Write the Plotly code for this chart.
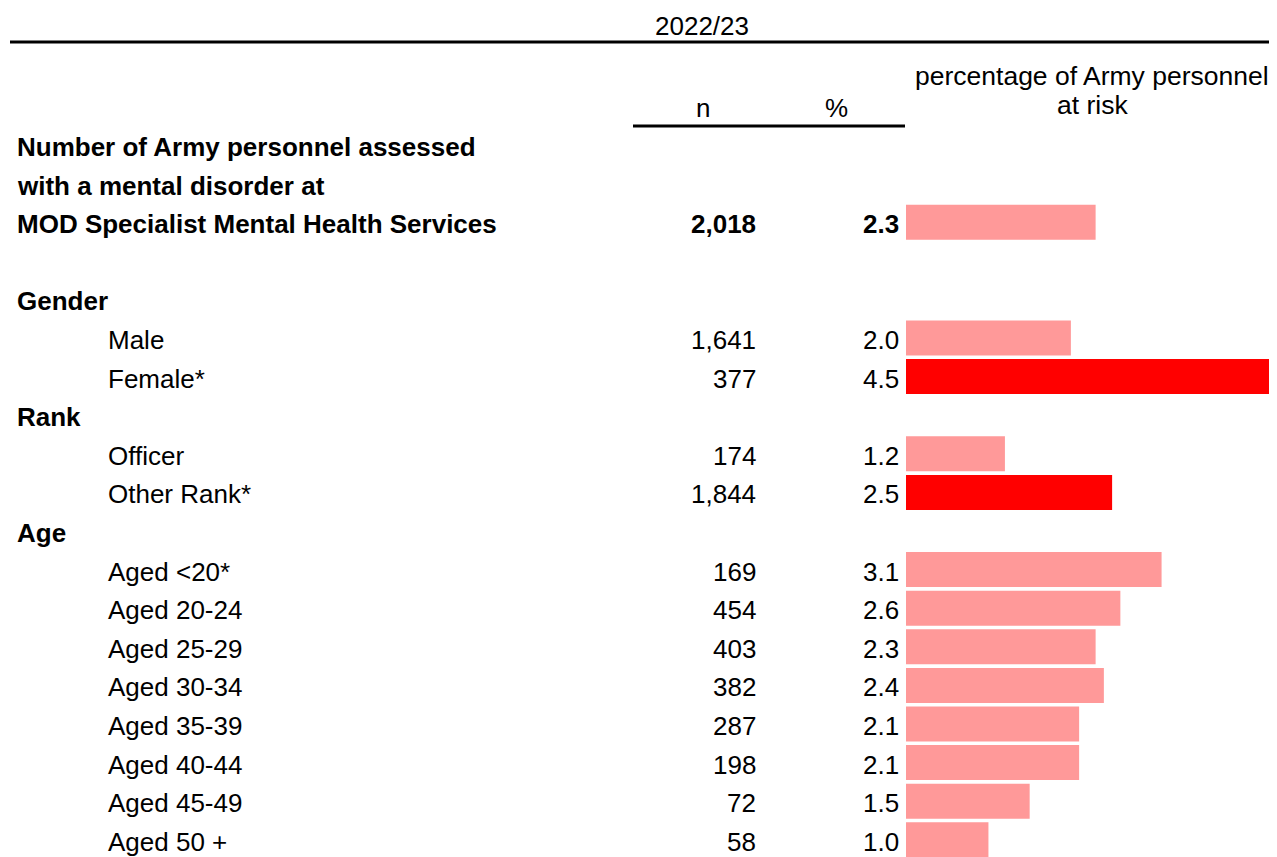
import plotly.graph_objects as go

# ---- data ----
title_lines = ["Number of Army personnel assessed",
               "with a mental disorder at",
               "MOD Specialist Mental Health Services"]
total_n = "2,018"
total_pct = 2.3

groups = ["Gender", "Rank", "Age"]
group_items = [
    ["Male", "Female*"],
    ["Officer", "Other Rank*"],
    ["Aged <20*", "Aged 20-24", "Aged 25-29", "Aged 30-34",
     "Aged 35-39", "Aged 40-44", "Aged 45-49", "Aged 50 +"],
]
group_n = [
    ["1,641", "377"],
    ["174", "1,844"],
    ["169", "454", "403", "382", "287", "198", "72", "58"],
]
group_pct = [
    [2.0, 4.5],
    [1.2, 2.5],
    [3.1, 2.6, 2.3, 2.4, 2.1, 2.1, 1.5, 1.0],
]
significant = ["Female*", "Other Rank*"]

PINK = "#FF9999"
RED = "#FF0000"
FONT = "Liberation Sans, Arial, sans-serif"
FS = 26

# page body has an 8px margin; work in page pixels and subtract it
OFF = 8
W, H = 1277 - OFF, 857 - OFF

def px(x):
    return (x - OFF) / W

def py(y):
    return y - OFF

ROW0 = 299.4
STEP = 38.6
def row_y(k):
    return ROW0 + STEP * k

TY = 2  # text baseline nudge
X_LABEL = 15
X_INDENT = 106
X_N = 758
X_PCT = 901
BAR_X0 = 906

annotations = []
def txt(x, y, s, anchor="left", bold=False, size=FS):
    annotations.append(dict(
        x=px(x), y=py(y + TY), xref="paper", yref="y", text=(f"<b>{s}</b>" if bold else s),
        showarrow=False, xanchor=anchor, yanchor="middle",
        font=dict(family=FONT, size=size, color="black")))

# header
txt(702, 24, "2022/23", anchor="center")
txt(703, row_y(-5), "n", anchor="center")
txt(836, row_y(-5), "%", anchor="center")
txt(1092, 74, "percentage of Army personnel", anchor="center", size=26.5)
txt(1092, 103, "at risk", anchor="center", size=26.5)

# title rows
for i, line in enumerate(title_lines):
    txt(X_LABEL, row_y(-4 + i), line, bold=True)
txt(X_N, row_y(-2), total_n, anchor="right", bold=True)
txt(X_PCT, row_y(-2), f"{total_pct:.1f}", anchor="right", bold=True)

bar_y, bar_x, bar_c = [py(row_y(-2))], [total_pct], [PINK]

k = 0
for g, items, ns, ps in zip(groups, group_items, group_n, group_pct):
    txt(X_LABEL, row_y(k), g, bold=True)
    k += 1
    for it, n, p in zip(items, ns, ps):
        txt(X_INDENT, row_y(k), it)
        txt(X_N, row_y(k), n, anchor="right")
        txt(X_PCT, row_y(k), f"{p:.1f}", anchor="right")
        bar_y.append(py(row_y(k)))
        bar_x.append(p)
        bar_c.append(RED if it in significant else PINK)
        k += 1

fig = go.Figure(go.Bar(
    x=bar_x, y=bar_y, orientation="h", width=35,
    marker=dict(color=bar_c, line=dict(width=0)),
    hoverinfo="skip"))

fig.update_layout(
    width=W, height=H,
    margin=dict(l=0, r=0, t=0, b=0),
    paper_bgcolor="white", plot_bgcolor="white",
    showlegend=False,
    xaxis=dict(domain=[px(BAR_X0), 1], range=[0, 4.5], visible=False, fixedrange=True),
    yaxis=dict(domain=[0, 1], range=[H, 0], visible=False, fixedrange=True),
    annotations=annotations,
    shapes=[
        dict(type="line", xref="paper", yref="y", x0=px(10), x1=1, y0=py(42), y1=py(42),
             line=dict(color="black", width=3)),
        dict(type="line", xref="paper", yref="y", x0=px(633), x1=px(905), y0=py(126), y1=py(126),
             line=dict(color="black", width=3)),
    ],
)

fig.write_html("out.html")
